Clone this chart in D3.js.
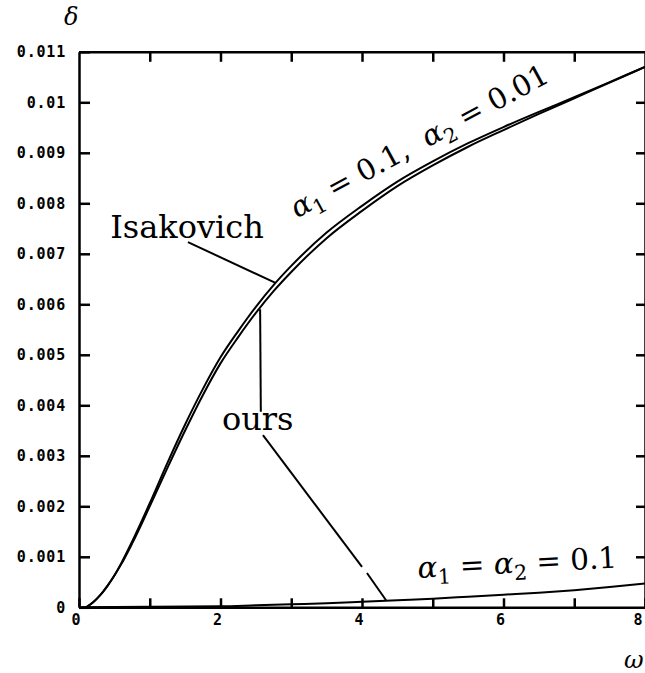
<!DOCTYPE html>
<html lang="en">
<head>
	<meta charset="UTF-8">
	<title>delta vs omega</title>
	<script src="https://cdn.jsdelivr.net/npm/d3@7"></script>
	<style>
		body { margin: 0; background: #fff; }
		.axis path, .axis line { stroke: #000; stroke-width: 2.5; fill: none; }
		.axis text { font-family: "DejaVu Sans Mono", monospace; font-weight: bold; font-size: 15px; letter-spacing: 0.8px; fill: #000; }
		.curve { fill: none; stroke: #000; stroke-width: 2; }
		.leader { stroke: #000; stroke-width: 2; }
		.lbl { font-family: "DejaVu Serif", serif; fill: #000; white-space: pre; }
	</style>
</head>
<body>
	<div id="container"></div>
	<script>
		// frequency omega and damping delta
		var omega = [0.1, 0.2, 0.3, 0.4, 0.5, 0.6, 0.75, 1.0, 1.25, 1.5, 1.75, 2.0, 2.25, 2.5, 2.75, 3.0, 3.5, 4.0, 4.5, 5.0, 5.5, 6.0, 6.5, 7.0, 7.5, 8.0];
		var ours = [0, 0.0001, 0.00024, 0.00042, 0.00063, 0.00086, 0.00126, 0.00200, 0.00276, 0.00350, 0.00420, 0.00483, 0.00535, 0.00583, 0.00626, 0.00664, 0.00731, 0.00785, 0.00834, 0.00875, 0.00912, 0.00945, 0.00977, 0.01008, 0.01039, 0.01070];
		var isakovich = [0, 0.0001, 0.00024, 0.00042, 0.00063, 0.00088, 0.00130, 0.00206, 0.00286, 0.00362, 0.00432, 0.00495, 0.00547, 0.00595, 0.00638, 0.00676, 0.00742, 0.00795, 0.00843, 0.00883, 0.00919, 0.00951, 0.00981, 0.01010, 0.01040, 0.01070];

		// alpha1 = alpha2 = 0.1
		var omegaLow = [0, 1, 2, 2.5, 3, 3.5, 4, 4.5, 5, 5.5, 6, 6.5, 7, 7.5, 8];
		var oursLow = [0, 0.00001, 0.00002, 0.00004, 0.00006, 0.00008, 0.00011, 0.00014, 0.00017, 0.00021, 0.00025, 0.00029, 0.00034, 0.00040, 0.00047];

		var xTicks = [0, 1, 2, 3, 4, 5, 6, 7, 8];
		var xTickLabels = ["0", "", "2", "", "4", "", "6", "", "8"];
		var yTicks = [0, 0.001, 0.002, 0.003, 0.004, 0.005, 0.006, 0.007, 0.008, 0.009, 0.01, 0.011];
		var yTickLabels = ["0", "0.001", "0.002", "0.003", "0.004", "0.005", "0.006", "0.007", "0.008", "0.009", "0.01", "0.011"];

		width = 645;
		height = 673;
		var svg = d3.select("#container").append("svg")
				.attr("width", width)
				.attr("height", height);

		var x = d3.scaleLinear().domain([0, 8]).range([79, 645]);
		var y = d3.scaleLinear().domain([0, 0.011]).range([607.3, 51.8]);

		// axes, ticks pointing inward
		svg.append("g").attr("class", "axis")
				.attr("transform", "translate(0," + y(0) + ")")
				.call(d3.axisBottom(x).tickValues(xTicks).tickSize(-9).tickSizeOuter(0).tickPadding(7)
					.tickFormat((d, i) => xTickLabels[i]))
				.selectAll("text").attr("dx", d => d === 8 ? -7 : -3);

		svg.append("g").attr("class", "axis")
				.attr("transform", "translate(0," + y(0.011) + ")")
				.call(d3.axisTop(x).tickValues(xTicks.slice(1, 8)).tickSize(-10).tickSizeOuter(0).tickFormat(""));

		svg.append("g").attr("class", "axis")
				.attr("transform", "translate(" + x(0) + ",0)")
				.call(d3.axisLeft(y).tickValues(yTicks).tickSize(-11).tickSizeOuter(0).tickPadding(13)
					.tickFormat((d, i) => yTickLabels[i]));

		svg.append("g").attr("class", "axis")
				.attr("transform", "translate(" + x(8) + ",0)")
				.call(d3.axisRight(y).tickValues(yTicks.slice(1, 11)).tickSize(-9).tickSizeOuter(0).tickFormat(""));

		var line = d3.line()
				.x(d => x(d[0]))
				.y(d => y(d[1]))
				.curve(d3.curveMonotoneX);

		svg.append("path").attr("class", "curve")
				.attr("d", line(d3.zip(omega, isakovich)));
		svg.append("path").attr("class", "curve")
				.attr("d", line(d3.zip(omega, ours)));
		svg.append("path").attr("class", "curve")
				.attr("d", line(d3.zip(omegaLow, oursLow)));

		// leader lines, in data units
		var leaders = [
			[[1.54, 0.00723], [2.77, 0.00643]],
			[[2.57, 0.00387], [2.56, 0.00590]],
			[[2.60, 0.00341], [4.00, 0.00080]],
			[[4.07, 0.00068], [4.34, 0.00014]]
		];
		svg.selectAll(".leader").data(leaders)
			.enter().append("line")
				.attr("class", "leader")
				.attr("x1", d => x(d[0][0]))
				.attr("y1", d => y(d[0][1]))
				.attr("x2", d => x(d[1][0]))
				.attr("y2", d => y(d[1][1]));

		svg.append("text").attr("class", "lbl")
				.attr("x", x(0.44)).attr("y", y(0.00731))
				.style("font-size", "32px")
				.text("Isakovich");

		svg.append("text").attr("class", "lbl")
				.attr("x", x(2.02)).attr("y", y(0.00351))
				.style("font-size", "32px")
				.text("ours");

		function alphaLabel(px, py, angle, size, parts) {
			var t = svg.append("text").attr("class", "lbl")
					.attr("transform", "translate(" + px + "," + py + ") rotate(" + angle + ")")
					.style("font-size", size + "px");
			parts.forEach(function(p) {
				var s = t.append("tspan").text(p[0]);
				if (p[1] === "a") s.style("font-style", "italic");
				if (p[1] === "sub") s.attr("dy", 7).style("font-size", (size * 0.7) + "px");
				if (p[1] === "up") s.attr("dy", -7);
			});
		}

		alphaLabel(x(3.08), y(0.0077), -28.4, 29, [
			["α", "a"], ["1", "sub"], [" = 0.1,  ", "up"], ["α", "a"], ["2", "sub"], [" = 0.01", "up"]
		]);
		alphaLabel(x(4.79), y(0.00058), -3, 29.5, [
			["α", "a"], ["1", "sub"], [" = ", "up"], ["α", "a"], ["2", "sub"], [" = 0.1", "up"]
		]);

		svg.append("text").attr("class", "lbl")
				.attr("x", 64).attr("y", 25)
				.style("font-size", "24px").style("font-style", "italic")
				.text("δ");
		svg.append("text").attr("class", "lbl")
				.attr("x", 624).attr("y", 668)
				.style("font-size", "24px").style("font-style", "italic")
				.text("ω");
	</script>
</body>
</html>
